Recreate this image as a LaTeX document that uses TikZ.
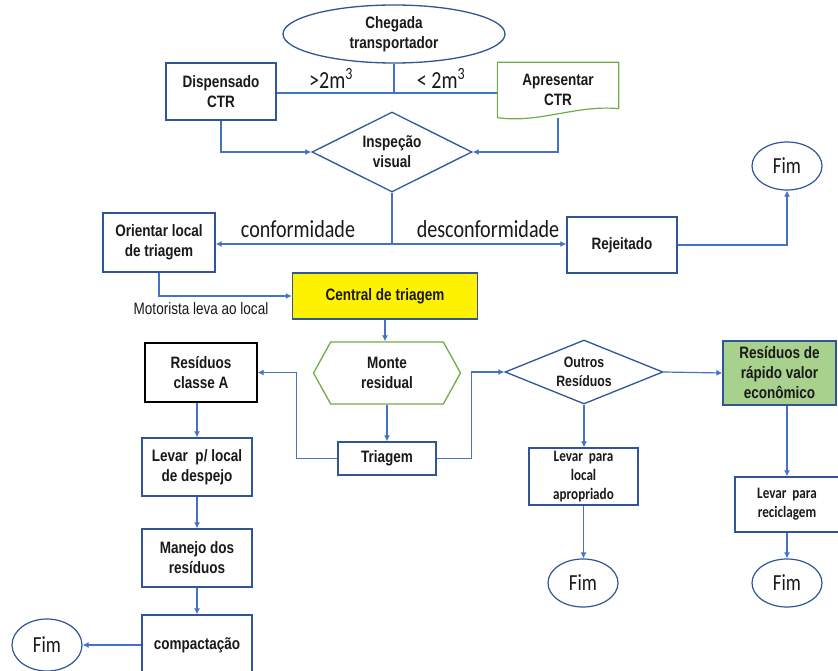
\documentclass[tikz,border=0pt]{standalone}
\usepackage{fontspec}
\setmainfont{Liberation Sans}[FakeStretch=0.82]
\newfontfamily\calfont{Carlito}[FakeStretch=0.82]
\usetikzlibrary{shapes.geometric,shapes.symbols,arrows.meta}
\definecolor{lineblue}{RGB}{68,114,196}
\definecolor{boxblue}{RGB}{47,85,151}
\definecolor{boxgreen}{RGB}{112,173,71}
\definecolor{ecogreen}{RGB}{169,209,142}
\definecolor{txt}{RGB}{25,25,25}
\newcommand{\boxfont}{\bfseries\fontsize{16.5}{20}\selectfont}
\newcommand{\smallbox}{\calfont\bfseries\fontsize{16}{19}\selectfont}
\tikzset{
  box/.style={draw=boxblue,line width=1.3pt,inner sep=0pt,align=center,text=txt,font=\boxfont},
  fimnode/.style={ellipse,draw=boxblue,line width=1.2pt,inner sep=0pt,minimum width=70pt,minimum height=48pt,text=txt,font=\calfont\fontsize{23}{26}\selectfont},
  conn/.style={draw=lineblue,line width=1.2pt},
  lbl/.style={text=txt,font=\calfont\fontsize{24.5}{28}\selectfont}
}
\begin{document}
\begin{tikzpicture}[x=1pt,y=-1pt,>={Latex[length=6pt,width=6pt]}]
\useasboundingbox (0,0) rectangle (838,671);
% top
\node[box,ellipse,minimum width=222,minimum height=58] (cheg) at (394,34) {Chegada\\transportador};
\node[box,minimum width=110,minimum height=57] (disp) at (221,91.5) {Dispensado\\CTR};
\node[box,draw=none,minimum width=120,minimum height=54] (apr) at (558,90) {Apresentar\\CTR};
\draw[draw=boxgreen,line width=1.2pt] (apr.south west) -- (apr.north west) -- (apr.north east)
  -- ([yshift=9pt]apr.south east) .. controls ([xshift=-43pt,yshift=13pt]apr.south east)
  and ([xshift=42pt,yshift=-6pt]apr.south west) .. (apr.south west);
\node[box,diamond,aspect=2,minimum width=160,minimum height=80] (insp) at (392,152) {Inspeção\\visual};
\coordinate (split) at (394,93);
\draw[conn] (cheg.south) -- (split);
\draw[conn] (split -| disp.east) -- (split -| apr.west);
\node[lbl] (maior) at (331,78) {>2m\textsuperscript{3}};
\node[lbl] (menor) at (441,78) {< 2m\textsuperscript{3}};
\draw[conn,->] (disp.south) |- (insp.west);
\draw[conn,->] (apr.south) |- (insp.east);
% inspecao
\node[box,minimum width=112,minimum height=59] (ori) at (159,242.5) {Orientar local\\de triagem};
\node[box,minimum width=110,minimum height=56] (rej) at (622,245) {Rejeitado};
\node[fimnode] (fim1) at (787,166) {Fim};
\coordinate (split2) at (392,244);
\draw[conn] (insp.south) -- (split2);
\draw[conn,->] (split2) -- (split2 -| ori.east);
\draw[conn,->] (split2) -- (split2 -| rej.west);
\node[lbl] (conf) at (298,229) {conformidade};
\node[lbl] (desc) at (488,229) {desconformidade};
\draw[conn,->] (rej.east) -| (fim1.south);
% triagem
\node[box,fill=yellow,minimum width=185,minimum height=46] (cen) at (385,296) {Central de triagem};
\draw[conn,->] (ori.south) |- (cen.west);
\node[text=txt,font=\fontsize{16.5}{19}\selectfont] (mot) at (201,309) {Motorista leva ao local};
\node[box,draw=boxgreen,signal,signal to=west and east,signal pointer angle=122,minimum width=147,minimum height=62] (mon) at (387,373) {Monte\\residual};
\node[box,minimum width=98,minimum height=33] (tri) at (387,458.5) {Triagem};
\draw[conn,->] (cen.south) -- (cen.south |- mon.north);
\draw[conn,->] (mon.south) -- (tri.north);
\node[box,draw=black,minimum width=112,minimum height=59] (cla) at (201,372.5) {Resíduos\\classe A};
\draw[conn,->] (tri.west) -- ++(-41,0) |- (cla.east);
\node[box,diamond,aspect=2.4,minimum width=158,minimum height=64,font=\bfseries\fontsize{15}{19}\selectfont] (out) at (584,372) {Outros\\Resíduos};
\draw[conn,->] (tri.east) -- ++(35,0) |- (out.west);
\node[box,fill=ecogreen,minimum width=113,minimum height=64] (eco) at (779.5,373) {Resíduos de\\rápido valor\\econômico};
\draw[conn,->] (out.east) -- (eco.west);
% outros
\node[box,minimum width=109,minimum height=57,font=\smallbox] (loc) at (583.5,476.5) {Levar~~para\\local\\apropriado};
\node[box,minimum width=104,minimum height=55,font=\smallbox] (rec) at (787,504.5) {Levar~~para\\reciclagem};
\node[fimnode] (fim2) at (583,583) {Fim};
\node[fimnode] (fim3) at (787,583) {Fim};
\draw[conn,->] (out.south) -- (out.south |- loc.north);
\draw[conn,->] (loc.south) -- (loc.south |- fim2.north);
\draw[conn,->] (rec.north |- eco.south) -- (rec.north);
\draw[conn,->] (rec.south) -- (fim3.north);
% classe A
\node[box,minimum width=110,minimum height=58] (desp) at (197,467) {Levar~~p/ local\\de despejo};
\node[box,minimum width=110,minimum height=58] (man) at (197,558) {Manejo dos\\resíduos};
\node[box,minimum width=110,minimum height=60] (com) at (197,645) {compactação};
\node[fimnode,minimum height=52] (fim4) at (47,645) {Fim};
\draw[conn,->] (desp.north |- cla.south) -- (desp.north);
\draw[conn,->] (desp.south) -- (man.north);
\draw[conn,->] (man.south) -- (com.north);
\draw[conn,->] (com.west) -- (fim4.east);
\end{tikzpicture}
\end{document}
